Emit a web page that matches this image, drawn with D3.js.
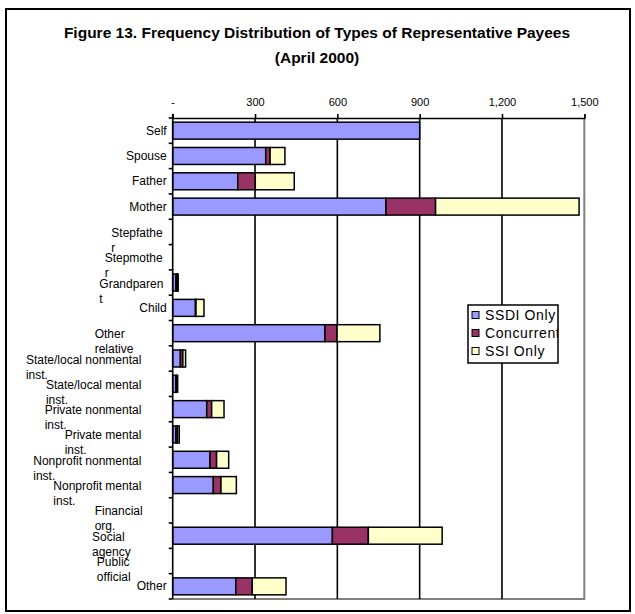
<!DOCTYPE html>
<html>
<head>
<meta charset="utf-8">
<script src="https://cdn.jsdelivr.net/npm/d3@7"></script>
<style>
  html, body { margin: 0; padding: 0; background: #fff; }
  svg { display: block; font-family: "Liberation Sans", Arial, sans-serif; }
</style>
</head>
<body>
<svg id="chart" width="635" height="614"></svg>
<script>
// Payee types and counts by benefit type
const categories = ["Self", "Spouse", "Father", "Mother", "Stepfather", "Stepmother",
  "Grandparent", "Child", "Other relative", "State/local nonmental inst.",
  "State/local mental inst.", "Private nonmental inst.", "Private mental inst.",
  "Nonprofit nonmental inst.", "Nonprofit mental inst.", "Financial org.",
  "Social agency", "Public official", "Other"];

// Category labels as they wrap on the axis
const labelLines = [["Self"], ["Spouse"], ["Father"], ["Mother"], ["Stepfathe", "r"],
  ["Stepmothe", "r"], ["Grandparen", "t"], ["Child"], ["Other", "relative"],
  ["State/local nonmental", "inst."], ["State/local mental", "inst."],
  ["Private nonmental", "inst."], ["Private mental", "inst."],
  ["Nonprofit nonmental", "inst."], ["Nonprofit mental", "inst."],
  ["Financial", "org."], ["Social", "agency"], ["Public", "official"], ["Other"]];

const seriesNames = ["SSDI Only", "Concurrent", "SSI Only"];
const ssdiOnly   = [900, 339, 237, 777, 0, 0, 12, 83, 555, 28, 12, 124, 12, 136, 148, 0, 582, 0, 230];
const concurrent = [0, 16, 64, 181, 0, 0, 4, 2, 44, 9, 3, 18, 6, 24, 28, 0, 131, 0, 60];
const ssiOnly    = [0, 54, 142, 523, 0, 0, 4, 29, 156, 10, 3, 45, 6, 44, 56, 0, 269, 0, 123];

const xTicks = [0, 300, 600, 900, 1200, 1500];
const titleLines = ["Figure 13. Frequency Distribution of Types of Representative Payees", "(April 2000)"];

const colors = ["#9999FF", "#993366", "#FFFFCC"];

const svg = d3.select("#chart");
const plot = { left: 172.7, right: 584.3, top: 118, bottom: 599 };

// Chart frame
svg.append("rect")
  .attr("x", 6).attr("y", 9).attr("width", 624).attr("height", 602)
  .attr("fill", "#fff").attr("stroke", "#000").attr("stroke-width", 2);

// Title
svg.selectAll("text.title").data(titleLines).join("text")
  .attr("class", "title")
  .attr("x", 317).attr("y", (d, i) => 38 + i * 25)
  .attr("text-anchor", "middle")
  .attr("font-size", 15.5).attr("font-weight", "bold")
  .text(d => d);

const x = d3.scaleLinear().domain([0, 1500]).range([plot.left, plot.right]);
const y = d3.scaleBand().domain(categories).range([plot.top, plot.bottom])
  .paddingInner(0.33).paddingOuter(0.165);

// Stack the three series
const rows = categories.map((c, i) => ({
  category: c, "SSDI Only": ssdiOnly[i], "Concurrent": concurrent[i], "SSI Only": ssiOnly[i]
}));
const stacked = d3.stack().keys(seriesNames)(rows);

// Plot area border (right and bottom)
svg.append("path")
  .attr("d", `M${plot.left},${plot.bottom}H${plot.right}V${plot.top}`)
  .attr("fill", "none").attr("stroke", "#808080").attr("stroke-width", 2);

// Vertical gridlines
svg.append("g").selectAll("line")
  .data(xTicks.filter(t => t > 0 && t < 1500)).join("line")
  .attr("x1", d => x(d)).attr("x2", d => x(d))
  .attr("y1", plot.top).attr("y2", plot.bottom)
  .attr("stroke", "#000").attr("stroke-width", 1.6);

// Bars
svg.append("g").selectAll("g")
  .data(stacked).join("g")
  .attr("fill", (d, i) => colors[i])
  .selectAll("rect")
  .data(d => d.filter(s => s[1] - s[0] > 0)).join("rect")
  .attr("x", d => x(d[0]))
  .attr("width", d => x(d[1]) - x(d[0]))
  .attr("y", d => y(d.data.category))
  .attr("height", y.bandwidth())
  .attr("stroke", "#000").attr("stroke-width", 1.5);

// Top value axis
const xAxis = svg.append("g")
  .attr("transform", `translate(0,${plot.top})`)
  .call(d3.axisTop(x).tickValues(xTicks).tickSize(4).tickPadding(8)
    .tickFormat(d => d === 0 ? "-" : d3.format(",")(d)));
xAxis.select(".domain").attr("stroke", "#000").attr("stroke-width", 1.6);
xAxis.selectAll(".tick line").attr("stroke", "#000").attr("stroke-width", 1.6);
xAxis.selectAll(".tick text").attr("font-size", 11).attr("fill", "#000")
  .attr("font-family", "Liberation Sans, Arial, sans-serif");

// Left category axis with ticks at band boundaries
svg.append("line")
  .attr("x1", plot.left).attr("x2", plot.left)
  .attr("y1", plot.top - 4).attr("y2", plot.bottom)
  .attr("stroke", "#000").attr("stroke-width", 1.6);
const step = y.step();
svg.append("g").selectAll("line")
  .data(d3.range(categories.length + 1)).join("line")
  .attr("x1", plot.left - 4).attr("x2", plot.left)
  .attr("y1", i => plot.top + i * step).attr("y2", i => plot.top + i * step)
  .attr("stroke", "#000").attr("stroke-width", 1.6);

// Category labels: wrapped lines share a left edge, block right-aligned by full label width
const labelRight = plot.left - 6;
const labelG = svg.append("g").attr("font-size", 12);
const measure = labelG.append("text").attr("visibility", "hidden");
categories.forEach((c, i) => {
  const lines = labelLines[i];
  const cy = y(c) + y.bandwidth() / 2;
  if (lines.length === 1) {
    labelG.append("text")
      .attr("x", labelRight).attr("y", cy + 4)
      .attr("text-anchor", "end")
      .text(lines[0]);
  } else {
    measure.text(c);
    const w = measure.node().getComputedTextLength();
    const left = labelRight - w;
    lines.forEach((ln, j) => {
      labelG.append("text")
        .attr("x", left).attr("y", cy + 5 + j * 15)
        .text(ln);
    });
  }
});
measure.remove();

// Legend
const lg = { x: 468, y: 305, w: 90, h: 58 };
svg.append("clipPath").attr("id", "legend-clip")
  .append("rect").attr("x", lg.x).attr("y", lg.y).attr("width", lg.w).attr("height", lg.h);
svg.append("rect")
  .attr("x", lg.x).attr("y", lg.y).attr("width", lg.w).attr("height", lg.h)
  .attr("fill", "#fff").attr("stroke", "#000").attr("stroke-width", 1.5);
const items = svg.append("g").attr("clip-path", "url(#legend-clip)")
  .selectAll("g").data(seriesNames).join("g")
  .attr("transform", (d, i) => `translate(${lg.x + 4},${lg.y + 10 + i * 18})`);
items.append("rect")
  .attr("x", 0).attr("y", -3.5).attr("width", 7).attr("height", 7)
  .attr("fill", (d, i) => colors[i]).attr("stroke", "#000").attr("stroke-width", 1);
items.append("text")
  .attr("x", 13).attr("y", 5)
  .attr("font-size", 14).attr("letter-spacing", 0.6)
  .text(d => d);
</script>
</body>
</html>
